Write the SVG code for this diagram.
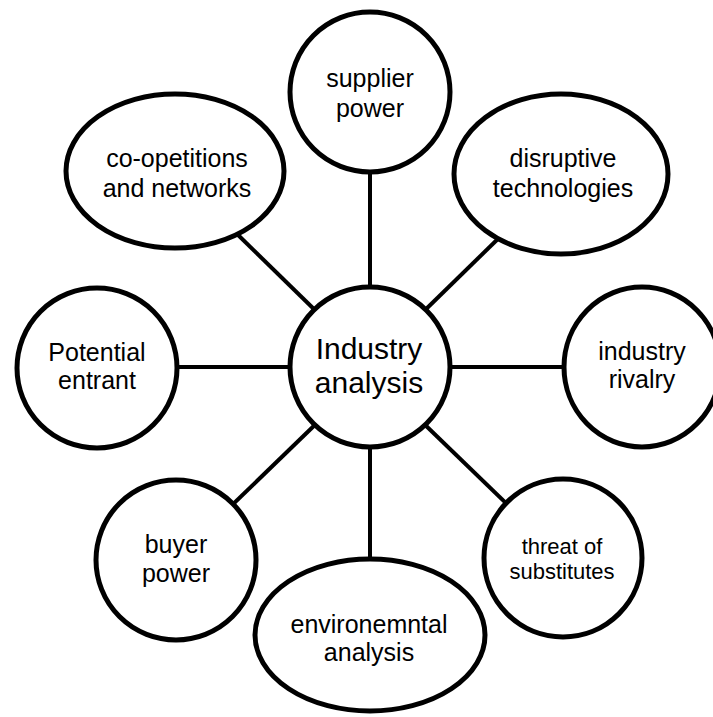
<svg xmlns="http://www.w3.org/2000/svg" width="713" height="717" viewBox="0 0 713 717">
  <style>
    .shape { fill: #ffffff; stroke: #000000; stroke-width: 5; }
    .link { stroke: #000000; stroke-width: 4; fill: none; }
    .label { font-family: "Liberation Sans", Arial, sans-serif; font-size: 25px; fill: #000000; text-anchor: middle; }
    .hub { font-size: 30px; }
    .small { font-size: 22px; }
  </style>
  <rect width="713" height="717" fill="#ffffff"/>

  <!-- spokes from the hub to each topic -->
  <g id="connectors">
    <line class="link" x1="370" y1="160" x2="370" y2="300"/>
    <line class="link" x1="235" y1="232" x2="320" y2="315"/>
    <line class="link" x1="505" y1="232" x2="420" y2="315"/>
    <line class="link" x1="170" y1="367" x2="300" y2="367"/>
    <line class="link" x1="440" y1="367" x2="575" y2="367"/>
    <line class="link" x1="228" y1="509" x2="320" y2="420"/>
    <line class="link" x1="512" y1="509" x2="420" y2="420"/>
    <line class="link" x1="370" y1="440" x2="370" y2="570"/>
  </g>

  <g id="industry-analysis">
    <circle class="shape" cx="370" cy="367" r="80"/>
    <text class="label hub" x="369" y="359">Industry</text>
    <text class="label hub" x="369" y="393">analysis</text>
  </g>

  <g id="supplier-power">
    <circle class="shape" cx="370" cy="92" r="80"/>
    <text class="label" x="370" y="87">supplier</text>
    <text class="label" x="370" y="117">power</text>
  </g>

  <g id="co-opetitions">
    <ellipse class="shape" cx="175" cy="171" rx="109" ry="77"/>
    <text class="label" x="177" y="167">co-opetitions</text>
    <text class="label" x="177" y="197">and networks</text>
  </g>

  <g id="disruptive-technologies">
    <ellipse class="shape" cx="561" cy="174" rx="107" ry="80"/>
    <text class="label" x="563" y="167">disruptive</text>
    <text class="label" x="563" y="197">technologies</text>
  </g>

  <g id="potential-entrant">
    <circle class="shape" cx="97" cy="368" r="80"/>
    <text class="label" x="97" y="361">Potential</text>
    <text class="label" x="97" y="389">entrant</text>
  </g>

  <g id="industry-rivalry">
    <ellipse class="shape" cx="642" cy="367" rx="78" ry="80"/>
    <text class="label" x="642" y="360">industry</text>
    <text class="label" x="642" y="388">rivalry</text>
  </g>

  <g id="buyer-power">
    <circle class="shape" cx="176" cy="560" r="80"/>
    <text class="label" x="176" y="553">buyer</text>
    <text class="label" x="176" y="582">power</text>
  </g>

  <g id="threat-of-substitutes">
    <circle class="shape" cx="563" cy="558" r="79"/>
    <text class="label small" x="562" y="554">threat of</text>
    <text class="label small" x="562" y="579">substitutes</text>
  </g>

  <g id="environmental-analysis">
    <ellipse class="shape" cx="370" cy="635" rx="115" ry="76"/>
    <text class="label" x="369" y="633">environemntal</text>
    <text class="label" x="369" y="661">analysis</text>
  </g>
</svg>
